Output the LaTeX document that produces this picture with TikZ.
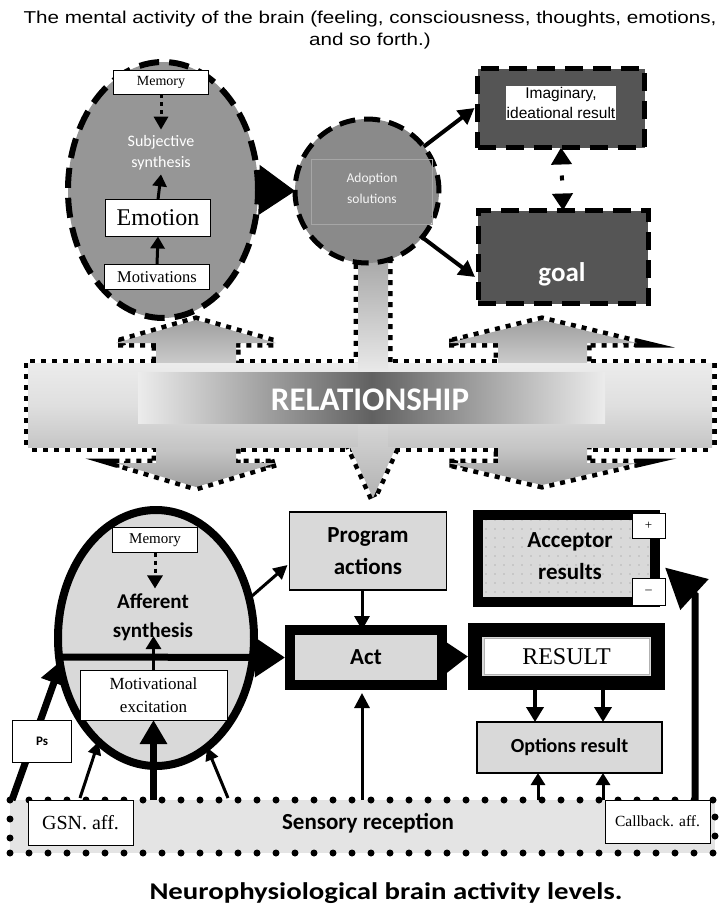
\documentclass[tikz,border=0pt]{standalone}
\usepackage{fontspec}
\setmainfont{Carlito}
\newfontfamily\capfont{Carlito}[FakeStretch=1.2]
\newfontfamily\tnr{Liberation Serif}
\newfontfamily\arl{Liberation Sans}
\newfontfamily\arlw{Liberation Sans}[FakeStretch=1.2]
\usetikzlibrary{shapes.geometric,arrows.meta,patterns.meta,calc}
\definecolor{midgray}{RGB}{150,150,150}
\definecolor{circgray}{RGB}{138,138,138}
\definecolor{darkbox}{RGB}{85,85,85}
\definecolor{lightbox}{RGB}{217,217,217}
\definecolor{sensfill}{RGB}{228,228,228}
\newcommand\fs[1]{\fontsize{#1}{#1}\selectfont}
\newcommand\LeftRel[1]{\path[#1] (156,343) -- (116,343) -- (196,320) -- (276,343) -- (236,343) -- (236,463) -- (276,463) -- (196,487) -- (116,463) -- (156,463) -- cycle;}
\newcommand\RightRel[1]{\path[#1] (498,343) -- (448,343) -- (542,320) -- (637,343) -- (587,343) -- (587,463) -- (637,463) -- (542,485) -- (448,463) -- (498,463) -- cycle;}
\newcommand\MidRel[1]{\path[#1] (358,255) -- (388,255) -- (388,447) -- (396,447) -- (373,498) -- (350,447) -- (358,447) -- cycle;}
\newcommand\BandRel[1]{\path[#1] (28,363) rectangle (712,447);}
\begin{document}
\begin{tikzpicture}[x=1pt,y=-1pt,
  every node/.style={inner sep=0pt,outer sep=0pt},
  wbox/.style={draw=black,line width=1pt,fill=white,rectangle},
  gbox/.style={draw=black,line width=1.2pt,fill=lightbox,rectangle},
  bigdash/.style={draw=black,line width=6pt,dash pattern=on 20pt off 10pt},
  reldots/.style={draw=black,line width=9pt,dash pattern=on 5pt off 6pt},
]
\useasboundingbox (0,0) rectangle (720,916);
\fill[white] (0,0) rectangle (720,916);

% ---------- title
\node[font=\arlw\fontsize{17.2}{22}\selectfont, align=center] (title) at (370,30)
  {The mental activity of the brain (feeling, consciousness, thoughts, emotions,\\and so forth.)};

% ---------- relationship band (outlines first, then fills)
\LeftRel{reldots}
\RightRel{reldots}
\MidRel{reldots}
\BandRel{reldots}
\LeftRel{top color=gray!75, bottom color=gray!75, middle color=gray!10}
\RightRel{top color=gray!75, bottom color=gray!75, middle color=gray!10}
\BandRel{top color=gray!15, bottom color=gray!45, middle color=gray!25}
\MidRel{top color=gray!70, bottom color=gray!60, middle color=gray!15}
\node[left color=gray!15, right color=gray!15, middle color=black!62,
      minimum width=467pt, minimum height=51pt] (relbar) at (371.5,397.5) {};
\node[font=\bfseries\fs{33}, text=white] (rel) at (370,400) {RELATIONSHIP};

% ---------- upper level
\node[ellipse, fill=midgray, bigdash, minimum width=190pt, minimum height=256pt] (se) at (163,190) {};
\node[wbox, minimum width=95pt, minimum height=24pt, font=\tnr\fs{14}] (mem1) at (161,82) {Memory};
\node[text=white, align=center, font=\fontsize{16}{21}\selectfont] (subj) at (161,153) {Subjective\\synthesis};
\node[wbox, minimum width=105pt, minimum height=37pt, font=\tnr\fs{24}] (emo) at (158,218) {Emotion};
\node[wbox, minimum width=105pt, minimum height=25pt, font=\tnr\fs{16.5}] (mot) at (157,277) {Motivations};
\draw[line width=3pt, dash pattern=on 4pt off 4pt, -{Triangle[length=13pt,width=14pt]}] (mem1.south) -- ($(subj.north)+(0,-6)$);
\draw[line width=3pt, -{Triangle[length=12pt,width=14pt]}] (emo.north) -- ($(subj.south)+(0,4)$);
\draw[line width=3pt, -{Triangle[length=12pt,width=14pt]}] (mot.north) -- (emo.south);

\node[circle, fill=circgray, draw=black, line width=5pt, dash pattern=on 16pt off 9pt, minimum size=144pt] (circ) at (367,191) {};
\node[draw=gray!70, line width=0.6pt, minimum width=121pt, minimum height=65pt] (adoptbox) at (372,192) {};
\node[text=gray!8, align=center, font=\fontsize{13.5}{21}\selectfont] (adopt) at (372,188) {Adoption\\solutions};
\draw[line width=1pt, -{Triangle[length=36pt,width=50pt]}] (se.east) -- (circ.west);

\node[draw=black, line width=5pt, dash pattern=on 18pt off 10pt, fill=darkbox, minimum width=167pt, minimum height=79pt] (imag) at (561,108) {};
\node[fill=white, align=center, font=\arl\fontsize{15.5}{20}\selectfont, inner sep=1pt] (imagtxt) at (561,103) {Imaginary,\\ideational result};
\node[draw=black, line width=5pt, dash pattern=on 18pt off 10pt, fill=darkbox, minimum width=170pt, minimum height=93pt] (goal) at (563,257) {};
\node[text=white, font=\bfseries\fs{27}] (goaltxt) at (562,274) {goal};
\draw[line width=4pt, -{Triangle[length=16pt,width=17pt]}] (circ.38) -- ($(imag.west)+(-3,0)$);
\draw[line width=4pt, -{Triangle[length=16pt,width=17pt]}] (circ.-40) -- ($(goal.west)+(-3,20)$);
\draw[line width=4pt, dash pattern=on 0pt off 12pt on 5pt off 30pt, {Triangle[length=17pt,width=20pt]}-{Triangle[length=17pt,width=20pt]}] (imag.south) -- (goal.north);

% ---------- lower level
\node[ellipse, draw=black, line width=8pt, fill=lightbox, minimum width=196pt, minimum height=256pt] (aff) at (156,638) {};
\node[wbox, minimum width=85pt, minimum height=25pt, font=\tnr\fs{15}] (mem2) at (155,540) {Memory};
\node[align=center, font=\bfseries\fontsize{21}{29}\selectfont] (afftxt) at (153,617) {Afferent\\synthesis};
\node[wbox, minimum width=147pt, minimum height=50pt, align=center, font=\tnr\fontsize{17}{23}\selectfont] (motex) at (153.5,695) {Motivational\\excitation};
\draw[line width=3pt, dash pattern=on 4pt off 4pt, -{Triangle[length=13pt,width=15pt]}] (mem2.south) -- ($(afftxt.north)+(2,-5)$);
\draw[line width=3pt, -{Triangle[length=13pt,width=15pt]}] (motex.north) -- ($(motex.north)+(0,-34)$);

\node[gbox, minimum width=157pt, minimum height=78pt, align=center, font=\bfseries\fontsize{23}{32}\selectfont] (prog) at (368,551) {Program\\actions};
\node[draw=black, line width=10pt, fill=lightbox, minimum width=152pt, minimum height=55pt, font=\bfseries\fs{23}] (act) at (366,657.5) {Act};
\node[draw=black, line width=14pt, fill=lightbox, minimum width=183pt, minimum height=53pt] (res) at (566.5,656.5) {};
\node[draw=gray!60, line width=0.8pt, fill=white, minimum width=165pt, minimum height=36pt, font=\tnr\fs{24}] (restxt) at (566.5,656.5) {RESULT};
\node[gbox, minimum width=185pt, minimum height=51pt, font=\bfseries\fs{20}] (opt) at (569.5,747.5) {Options result};
\node[draw=black, line width=10pt, preaction={fill=lightbox}, pattern={Dots[distance=9pt,radius=0.6pt]}, pattern color=gray!90, minimum width=177pt, minimum height=87pt] (acc) at (566.5,558.5) {};
\node[align=center, font=\bfseries\fontsize{23}{32}\selectfont] (acctxt) at (570,556) {Acceptor\\results};
\node[wbox, minimum width=33pt, minimum height=25pt, font=\tnr\fs{13}] (plus) at (648.5,525.5) {+};
\node[wbox, minimum width=33pt, minimum height=27pt, font=\tnr\fs{13}] (minus) at (648.5,591.5) {–};

% sensory band
\node[fill=sensfill, draw=black, line width=7pt, line cap=round, dash pattern=on 0pt off 19pt, minimum width=705pt, minimum height=53pt] (sens) at (362.5,826.5) {};
\node[font=\bfseries\fs{23}] (senstxt) at (368,823) {Sensory reception};

% lower connectors
\draw[line width=7pt, -{Triangle[length=30pt,width=38pt]}] ($(aff.west)+(1,19)$) -- ($(act.west)+(-5,0)$);
\draw[line width=7pt, -{Triangle[length=24pt,width=26pt]}] ($(sens.north west)+(2,0)$) -- ($(aff.west)+(4,22)$);
\draw[line width=7pt, -{Triangle[length=24pt,width=26pt]}] (motex.south |- sens.north) -- (motex.south);
\draw[line width=3pt, -{Triangle[length=13pt,width=13pt]}] ($(sens.north west)+(70,-2)$) -- (aff.241);
\draw[line width=3pt, -{Triangle[length=13pt,width=13pt]}] ($(sens.north west)+(218,-2)$) -- (aff.295);
\draw[line width=3pt, -{Triangle[length=14pt,width=14pt]}] (aff.23) -- ($(prog.west)+(-2,14)$);
\draw[line width=3pt, -{Triangle[length=14pt,width=15pt]}] ($(prog.south)+(-6,0)$) -- ($(act.north)+(-4,0)$);
\draw[line width=3pt, -{Triangle[length=15pt,width=15pt]}] ($(act.south |- sens.north)+(-4,0)$) -- ($(act.south)+(-4,8)$);
\draw[line width=6pt, -{Triangle[length=22pt,width=30pt]}] (act.east) -- ($(res.west)+(-7,0)$);
\draw[line width=4.5pt, -{Triangle[length=15pt,width=17pt]}] ($(res.south)+(-31.5,0)$) -- ($(opt.north)+(-34.5,0)$);
\draw[line width=4.5pt, -{Triangle[length=15pt,width=17pt]}] ($(res.south)+(36.5,0)$) -- ($(opt.north)+(33.5,0)$);
\draw[line width=3pt, -{Triangle[length=12pt,width=14pt]}] ($(opt.south |- sens.north)+(-31.5,0)$) -- ($(opt.south)+(-31.5,0)$);
\draw[line width=3pt, -{Triangle[length=12pt,width=14pt]}] ($(opt.south |- sens.north)+(33.5,0)$) -- ($(opt.south)+(33.5,0)$);
\draw[line width=7pt, -{Triangle[length=40pt,width=40pt]}] ($(sens.north east)+(-20,0)$) -- ($(sens.north east)+(-20,-205)$) -- ($(acc.east)+(10,9)$);

% boxes drawn over connectors
\node[wbox, minimum width=105pt, minimum height=45pt, font=\tnr\fs{20}] (gsn) at (80.5,822.5) {GSN. aff.};
\node[wbox, minimum width=105pt, minimum height=43pt, font=\tnr\fs{15.5}] (cb) at (657.5,821.5) {Callback. aff.};
\node[wbox, minimum width=59pt, minimum height=42pt, font=\bfseries\fs{13}] (ps) at (42,741) {Ps};

% caption
\node[font=\capfont\bfseries\fs{24}] (caption) at (386,893) {Neurophysiological brain activity levels.};
\end{tikzpicture}
\end{document}
